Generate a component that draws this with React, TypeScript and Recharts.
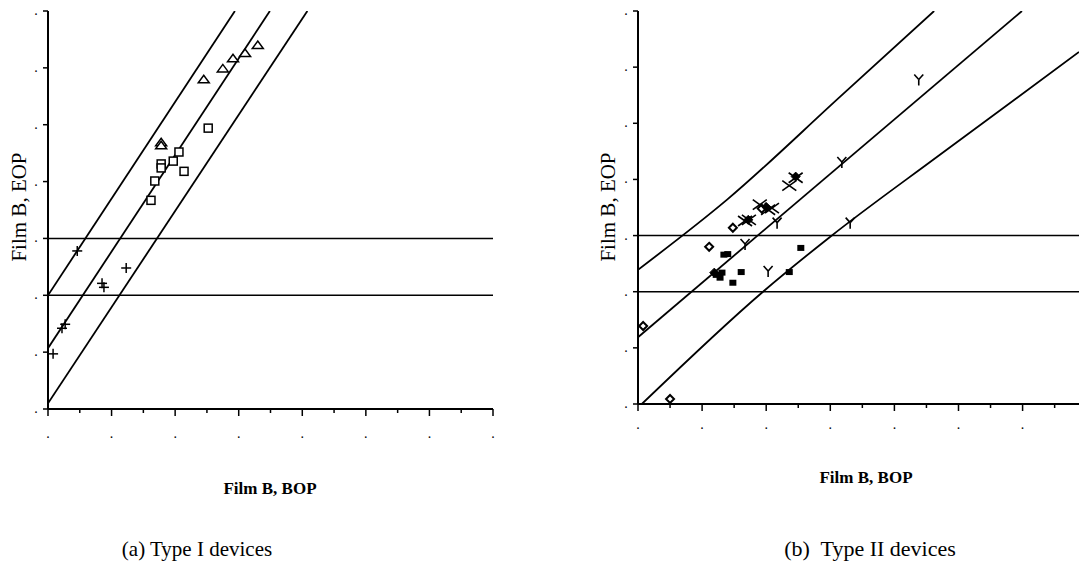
import React from 'react';
import { ScatterChart, Scatter, XAxis, YAxis, ReferenceLine } from 'recharts';

// ---------- Panel (a): Type I devices ----------
const typeIPlus = [
  { x: 0.46, y: 2.78 }, { x: 1.23, y: 2.48 }, { x: 0.85, y: 2.21 }, { x: 0.88, y: 2.14 },
  { x: 0.27, y: 1.49 }, { x: 0.22, y: 1.42 }, { x: 0.08, y: 0.97 },
];
const typeISquare = [
  { x: 2.52, y: 4.94 }, { x: 2.06, y: 4.52 }, { x: 1.97, y: 4.36 }, { x: 1.78, y: 4.31 },
  { x: 1.78, y: 4.24 }, { x: 2.14, y: 4.18 }, { x: 1.68, y: 4.01 }, { x: 1.62, y: 3.67 },
];
const typeITriangle = [
  { x: 1.78, y: 4.69 }, { x: 1.78, y: 4.64 }, { x: 2.45, y: 5.8 }, { x: 2.75, y: 5.99 },
  { x: 2.91, y: 6.17 }, { x: 3.1, y: 6.26 }, { x: 3.3, y: 6.4 },
];
const typeIBandUpper = [{ x: 0, y: 2.0 }, { x: 2.94, y: 7 }];
const typeIBandMid = [{ x: 0, y: 1.07 }, { x: 3.49, y: 7 }];
const typeIBandLower = [{ x: 0, y: 0.1 }, { x: 4.08, y: 7 }];
const typeILimits = [2, 3];
const typeIXTicks = [0, 0.5, 1, 1.5, 2, 2.5, 3, 3.5, 4, 4.5, 5, 5.5, 6, 6.5, 7];
const typeIYTicks = [0, 1, 2, 3, 4, 5, 6, 7];

// ---------- Panel (b): Type II devices ----------
const typeIIDiamondOpen = [
  { x: 0.08, y: 1.39 }, { x: 0.5, y: 0.09 }, { x: 1.11, y: 2.8 }, { x: 1.48, y: 3.14 }, { x: 1.93, y: 3.48 },
];
const typeIIDiamondFilled = [
  { x: 2.46, y: 4.05 }, { x: 1.72, y: 3.28 }, { x: 2.0, y: 3.51 }, { x: 1.19, y: 2.34 },
];
const typeIISquare = [
  { x: 1.34, y: 2.66 }, { x: 1.4, y: 2.67 }, { x: 1.22, y: 2.3 }, { x: 1.28, y: 2.25 },
  { x: 1.31, y: 2.34 }, { x: 1.48, y: 2.16 }, { x: 1.61, y: 2.35 }, { x: 2.36, y: 2.35 }, { x: 2.54, y: 2.78 },
];
const typeIIY = [
  { x: 1.67, y: 2.85 }, { x: 2.17, y: 3.23 }, { x: 3.18, y: 4.31 }, { x: 3.31, y: 3.23 },
  { x: 2.03, y: 2.37 }, { x: 4.38, y: 5.78 },
];
const typeIICross = [
  { x: 2.36, y: 3.89 }, { x: 2.46, y: 4.03 }, { x: 1.9, y: 3.55 }, { x: 2.09, y: 3.49 },
  { x: 2.03, y: 3.46 }, { x: 1.73, y: 3.28 }, { x: 1.67, y: 3.26 },
];
const typeIIBandUpper = [{ x: 0, y: 2.39 }, { x: 1.39, y: 3.64 }, { x: 3.15, y: 5.47 }, { x: 4.62, y: 7.0 }];
const typeIIBandMid = [{ x: 0, y: 1.19 }, { x: 5.99, y: 7.0 }];
const typeIIBandLower = [{ x: 0.06, y: 0 }, { x: 1.95, y: 2.0 }, { x: 3.0, y: 2.98 }, { x: 4.71, y: 4.44 }, { x: 6.88, y: 6.27 }];
const typeIILimits = [2, 3];
const typeIIXTicks = [0, 0.5, 1, 1.5, 2, 2.5, 3, 3.5, 4, 4.5, 5, 5.5, 6, 6.5];
const typeIIYTicks = [0, 1, 2, 3, 4, 5, 6, 7];

const FONT = '"Liberation Serif", "DejaVu Serif", serif';
const INK = '#000';

const Empty = () => <g />;

const PlusShape = (p: any) => (
  <g stroke={INK} strokeWidth={1.5}>
    <line x1={p.cx - 5} x2={p.cx + 5} y1={p.cy} y2={p.cy} />
    <line x1={p.cx} x2={p.cx} y1={p.cy - 5} y2={p.cy + 5} />
  </g>
);
const SquareShape = (p: any) => (
  <rect x={p.cx - 4} y={p.cy - 4} width={8} height={8} fill="#fff" stroke={INK} strokeWidth={1.5} />
);
const TriangleShape = (p: any) => (
  <polygon
    points={`${p.cx - 5.5},${p.cy + 3.5} ${p.cx + 5.5},${p.cy + 3.5} ${p.cx},${p.cy - 4}`}
    fill="#fff" stroke={INK} strokeWidth={1.5}
  />
);
const DiamondOpenShape = (p: any) => (
  <polygon
    points={`${p.cx},${p.cy - 4} ${p.cx + 4},${p.cy} ${p.cx},${p.cy + 4} ${p.cx - 4},${p.cy}`}
    fill="#fff" stroke={INK} strokeWidth={2}
  />
);
const DiamondFilledShape = (p: any) => (
  <polygon
    points={`${p.cx},${p.cy - 4.5} ${p.cx + 4.5},${p.cy} ${p.cx},${p.cy + 4.5} ${p.cx - 4.5},${p.cy}`}
    fill={INK} stroke={INK} strokeWidth={1}
  />
);
const FilledSquareShape = (p: any) => (
  <rect x={p.cx - 3.5} y={p.cy - 3} width={7} height={6} fill={INK} />
);
const YShape = (p: any) => (
  <g stroke={INK} strokeWidth={1.6} fill="none">
    <line x1={p.cx} y1={p.cy} x2={p.cx - 4.5} y2={p.cy - 5} />
    <line x1={p.cx} y1={p.cy} x2={p.cx + 4.5} y2={p.cy - 5} />
    <line x1={p.cx} y1={p.cy} x2={p.cx} y2={p.cy + 6} />
  </g>
);
const CrossShape = (p: any) => (
  <g stroke={INK} strokeWidth={1.6}>
    <line x1={p.cx - 7} y1={p.cy - 5} x2={p.cx + 7} y2={p.cy + 5} />
    <line x1={p.cx - 7} y1={p.cy + 5} x2={p.cx + 7} y2={p.cy - 5} />
  </g>
);

const makeXTick = (dotOffset: number) => (props: any) => {
  const { x, y, payload } = props;
  const v = payload.value;
  const major = Math.abs(v - Math.round(v)) < 1e-6;
  return (
    <g>
      <line x1={x} x2={x} y1={y} y2={y + (major ? 7 : 4)} stroke={INK} strokeWidth={1.5} />
      {major && (
        <text x={x} y={y + dotOffset} textAnchor="middle" fontSize={14} fontFamily={FONT} fill={INK}>.</text>
      )}
    </g>
  );
};

const YTick = (props: any) => {
  const { x, y } = props;
  return (
    <g>
      <line x1={x - 5} x2={x} y1={y} y2={y} stroke={INK} strokeWidth={1.5} />
      <text x={x - 12} y={y + 4} textAnchor="middle" fontSize={14} fontFamily={FONT} fill={INK}>.</text>
    </g>
  );
};

const bandLine = { stroke: INK, strokeWidth: 1.8 };

export default function App() {
  return (
    <div style={{ position: 'fixed', left: 0, top: 0, width: 1079, height: 575, overflow: 'hidden', background: '#fff' }}>
      <div style={{ position: 'absolute', left: 0, top: 0 }}>
        <ScatterChart width={520} height={450} margin={{ top: 11, right: 27, left: 0, bottom: 0 }}>
          <XAxis
            type="number" dataKey="x" domain={[0, 7]} ticks={typeIXTicks} interval={0}
            height={41} tickSize={0} tickMargin={0} tickLine={false}
            axisLine={{ stroke: INK, strokeWidth: 2 }} tick={makeXTick(29)} allowDataOverflow
          />
          <YAxis
            type="number" dataKey="y" domain={[0, 7]} ticks={typeIYTicks} interval={0}
            width={48} tickSize={0} tickMargin={0} tickLine={false}
            axisLine={{ stroke: INK, strokeWidth: 2 }} tick={<YTick />} allowDataOverflow
          />
          {typeILimits.map((v) => (
            <ReferenceLine key={v} y={v} stroke={INK} strokeWidth={1.6} />
          ))}
          <Scatter data={typeIBandUpper} line={bandLine} shape={Empty} isAnimationActive={false} />
          <Scatter data={typeIBandMid} line={bandLine} shape={Empty} isAnimationActive={false} />
          <Scatter data={typeIBandLower} line={bandLine} shape={Empty} isAnimationActive={false} />
          <Scatter data={typeIPlus} shape={PlusShape} isAnimationActive={false} />
          <Scatter data={typeISquare} shape={SquareShape} isAnimationActive={false} />
          <Scatter data={typeITriangle} shape={TriangleShape} isAnimationActive={false} />
        </ScatterChart>
      </div>
      <div style={{ position: 'absolute', left: 590, top: 0 }}>
        <ScatterChart width={489} height={450} margin={{ top: 11, right: 0, left: 0, bottom: 0 }}>
          <XAxis
            type="number" dataKey="x" domain={[0, 6.88]} ticks={typeIIXTicks} interval={0}
            height={46} tickSize={0} tickMargin={0} tickLine={false}
            axisLine={{ stroke: INK, strokeWidth: 2 }} tick={makeXTick(25)} allowDataOverflow
          />
          <YAxis
            type="number" dataKey="y" domain={[0, 7]} ticks={typeIIYTicks} interval={0}
            width={48} tickSize={0} tickMargin={0} tickLine={false}
            axisLine={{ stroke: INK, strokeWidth: 2 }} tick={<YTick />} allowDataOverflow
          />
          {typeIILimits.map((v) => (
            <ReferenceLine key={v} y={v} stroke={INK} strokeWidth={1.6} />
          ))}
          <Scatter data={typeIIBandUpper} line={bandLine} lineJointType="monotoneX" shape={Empty} isAnimationActive={false} />
          <Scatter data={typeIIBandMid} line={bandLine} shape={Empty} isAnimationActive={false} />
          <Scatter data={typeIIBandLower} line={bandLine} lineJointType="monotoneX" shape={Empty} isAnimationActive={false} />
          <Scatter data={typeIISquare} shape={FilledSquareShape} isAnimationActive={false} />
          <Scatter data={typeIIDiamondOpen} shape={DiamondOpenShape} isAnimationActive={false} />
          <Scatter data={typeIIDiamondFilled} shape={DiamondFilledShape} isAnimationActive={false} />
          <Scatter data={typeIIY} shape={YShape} isAnimationActive={false} />
          <Scatter data={typeIICross} shape={CrossShape} isAnimationActive={false} />
        </ScatterChart>
      </div>
      <svg width={1079} height={575} style={{ position: 'absolute', left: 0, top: 0, pointerEvents: 'none' }}>
        <g fontFamily={FONT} fill={INK} fontWeight="bold">
          <text x={270} y={494} textAnchor="middle" fontSize={17}>Film B, BOP</text>
          <text x={866} y={483} textAnchor="middle" fontSize={17}>Film B, BOP</text>
        </g>
        <g fontFamily={FONT} fill={INK}>
          <text x={0} y={0} textAnchor="middle" fontSize={21} transform="translate(26,207) rotate(-90)">Film B, EOP</text>
          <text x={0} y={0} textAnchor="middle" fontSize={21} transform="translate(615,207) rotate(-90)">Film B, EOP</text>
        </g>
        <g fontFamily={FONT} fill={INK}>
          <text x={197} y={556} textAnchor="middle" fontSize={21}>(a) Type I devices</text>
          <text x={870} y={556} textAnchor="middle" fontSize={22} style={{ whiteSpace: 'pre' }}>(b)  Type II devices</text>
        </g>
      </svg>
    </div>
  );
}
